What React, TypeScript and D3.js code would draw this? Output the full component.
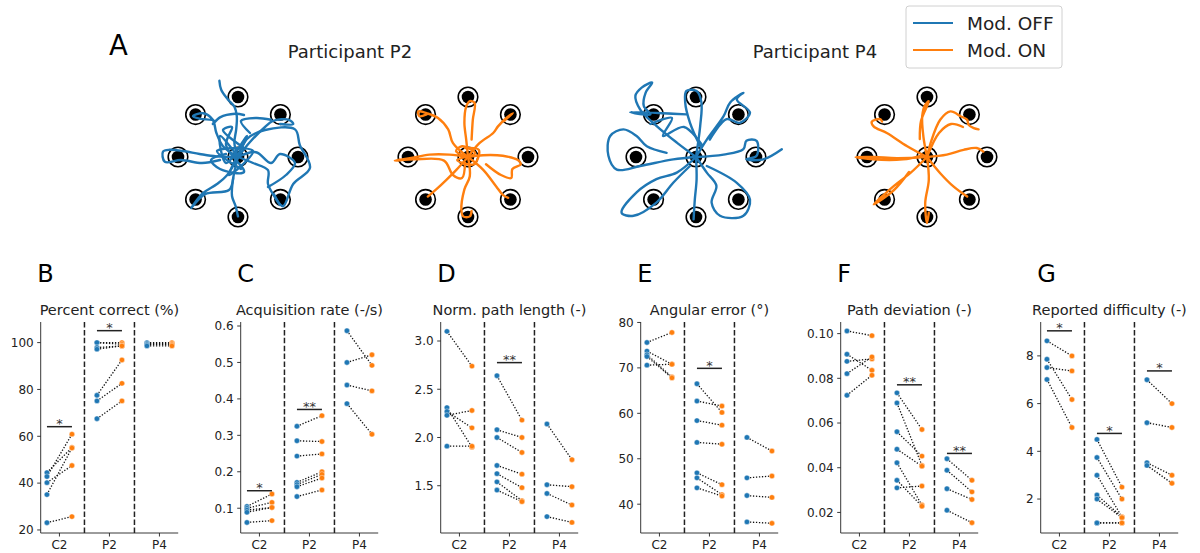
import React from "react";
import * as d3 from "d3";

const BLUE = "#1f77b4";
const ORANGE = "#ff7f0e";
const FONT = "DejaVu Sans, sans-serif";

// ---- group labels ----
const groups = ["C2", "P2", "P4"];

// ---- per-subject [Mod. OFF, Mod. ON] pairs ----
const pctC2: [number, number][] = [[44.5, 55.2], [42.8, 60.9], [40.2, 47.5], [35.1, 55.0], [23.1, 25.7]];
const pctP2: [number, number][] = [[100, 100], [100, 99.3], [97.9, 98.6], [97.2, 98.6], [77.5, 92.6], [75.1, 82.6], [67.5, 75.1]];
const pctP4: [number, number][] = [[100, 100], [99.6, 99.6], [99.1, 99.1], [98.6, 98.6]];

const rateC2: [number, number][] = [[0.105, 0.139], [0.1, 0.116], [0.095, 0.102], [0.089, 0.102], [0.061, 0.066]];
const rateP2: [number, number][] = [[0.325, 0.354], [0.285, 0.283], [0.243, 0.249], [0.171, 0.2], [0.165, 0.193], [0.159, 0.183], [0.132, 0.15]];
const rateP4: [number, number][] = [[0.587, 0.492], [0.5, 0.521], [0.438, 0.422], [0.387, 0.303]];

const lenC2: [number, number][] = [[3.1, 2.74], [2.31, 1.9], [2.27, 2.1], [2.23, 2.28], [1.91, 1.91]];
const lenP2: [number, number][] = [[2.64, 2.18], [2.08, 2.0], [2.0, 1.845], [1.71, 1.62], [1.625, 1.48], [1.54, 1.345], [1.455, 1.335]];
const lenP4: [number, number][] = [[2.14, 1.77], [1.51, 1.49], [1.42, 1.3], [1.18, 1.12]];

const angC2: [number, number][] = [[75.6, 77.8], [73.7, 70.8], [72.9, 68.0], [72.5, 67.8], [70.6, 70.8]];
const angP2: [number, number][] = [[66.5, 60.2], [62.7, 61.6], [58.4, 57.4], [53.6, 53.2], [46.9, 44.3], [45.8, 42.1], [43.6, 41.8]];
const angP4: [number, number][] = [[54.7, 51.7], [45.8, 46.2], [41.9, 41.5], [36.1, 35.8]];

const devC2: [number, number][] = [[0.1012, 0.0991], [0.0908, 0.0836], [0.0876, 0.0887], [0.0821, 0.0896], [0.0724, 0.0814]];
const devP2: [number, number][] = [[0.0735, 0.0571], [0.069, 0.041], [0.0561, 0.0452], [0.0483, 0.0407], [0.0422, 0.0233], [0.0344, 0.0228], [0.031, 0.0318]];
const devP4: [number, number][] = [[0.044, 0.0344], [0.0389, 0.0292], [0.0306, 0.0258], [0.021, 0.0154]];

const diffC2: [number, number][] = [[8.63, 8.0], [7.86, 6.17], [7.51, 7.37], [7.01, 5.0]];
const diffP2: [number, number][] = [[4.5, 2.5], [3.74, 2.0], [3.0, 1.25], [2.17, 1.25], [2.0, 1.22], [1.0, 1.0], [1.0, 1.0]];
const diffP4: [number, number][] = [[7.0, 6.0], [5.2, 5.0], [3.52, 3.0], [3.41, 2.66]];

// ---- significance markers: [group index, bar value, label] ----
const sigPct: [number, number, string][] = [[0, 64.1, "*"], [1, 105.1, "*"]];
const sigRate: [number, number, string][] = [[0, 0.148, "*"], [1, 0.371, "**"]];
const sigLen: [number, number, string][] = [[1, 2.776, "**"]];
const sigAng: [number, number, string][] = [[1, 69.9, "*"]];
const sigDev: [number, number, string][] = [[1, 0.0771, "**"], [2, 0.0464, "**"]];
const sigDiff: [number, number, string][] = [[0, 9.05, "*"], [1, 4.75, "*"], [2, 7.37, "*"]];

// ---- y ticks ----
const ticksPct = [20, 40, 60, 80, 100];
const ticksRate = [0.1, 0.2, 0.3, 0.4, 0.5, 0.6];
const ticksLen = [1.5, 2.0, 2.5, 3.0];
const ticksAng = [40, 50, 60, 70, 80];
const ticksDev = [0.02, 0.04, 0.06, 0.08, 0.1];
const ticksDiff = [2, 4, 6, 8];

type Pair = [number, number];
interface PanelSpec {
  letter: string;
  title: string;
  domain: [number, number];
  ticks: number[];
  fmt: string;
  data: Pair[][];
  sig: [number, number, string][];
}

const panels: PanelSpec[] = [
  { letter: "B", title: "Percent correct (%)", domain: [18.7, 108.8], ticks: ticksPct, fmt: "d", data: [pctC2, pctP2, pctP4], sig: sigPct },
  { letter: "C", title: "Acquisition rate (-/s)", domain: [0.032, 0.611], ticks: ticksRate, fmt: ".1f", data: [rateC2, rateP2, rateP4], sig: sigRate },
  { letter: "D", title: "Norm. path length (-)", domain: [1.01, 3.197], ticks: ticksLen, fmt: ".1f", data: [lenC2, lenP2, lenP4], sig: sigLen },
  { letter: "E", title: "Angular error (°)", domain: [33.66, 80.1], ticks: ticksAng, fmt: "d", data: [angC2, angP2, angP4], sig: sigAng },
  { letter: "F", title: "Path deviation (-)", domain: [0.0108, 0.1052], ticks: ticksDev, fmt: ".2f", data: [devC2, devP2, devP4], sig: sigDev },
  { letter: "G", title: "Reported difficulty (-)", domain: [0.577, 9.42], ticks: ticksDiff, fmt: "d", data: [diffC2, diffP2, diffP4], sig: sigDiff },
];

// ---- cursor trajectories (target radius = 1, y up) ----
type Pt = [number, number];
const trajP2Off: Pt[][] = [
  [[0, 0], [-0.06, 0.23], [-0.03, 0.46], [-0.02, 0.68], [-0.06, 0.84], [-0.17, 0.96], [-0.28, 1.12], [-0.31, 1.27]],
  [[0, 0], [-0.25, 0.18], [-0.36, 0.4], [-0.42, 0.62], [-0.58, 0.73], [-0.75, 0.68], [-0.64, 0.64], [-0.39, 0.6], [-0.42, 0.55], [-0.3, 0.66], [-0.05, 0.72], [0.1, 0.7]],
  [[0, 0], [-0.36, 0.01], [-0.64, 0.05], [-0.92, 0.1], [-1.14, 0.12], [-1.25, 0.09], [-1.22, -0.08], [-0.95, -0.05], [-0.6, -0.1], [-0.3, -0.05]],
  [[0, 0], [0.15, 0.3], [0.45, 0.45], [0.95, 0.46], [1.03, 0.2], [1.2, -0.18], [0.92, -0.45], [0.75, -0.82], [0.6, -0.62]],
  [[0, 0], [0.2, 0.25], [0.45, 0.5], [0.58, 0.6], [0.85, 0.62], [0.92, 0.55], [0.7, 0.55]],
  [[0, 0], [0.25, -0.1], [0.5, -0.22], [0.5, -0.45], [0.62, -0.68], [0.7, -0.8]],
  [[0, 0], [-0.18, -0.3], [-0.35, -0.45], [-0.58, -0.6], [-0.78, -0.85], [-0.55, -0.62], [-0.15, -0.55], [-0.08, -0.35]],
  [[0, 0], [-0.08, -0.35], [-0.1, -0.65], [-0.04, -0.82], [0, -0.99]],
  [[0, 0], [-0.3, 0.35], [-0.2, -0.1], [0.15, 0.35], [-0.15, -0.3], [0.25, 0.1], [-0.35, 0.1], [0.05, -0.2]],
  [[0, 0], [0.3, 0.08], [0.55, -0.1], [0.7, 0.05], [0.95, -0.1], [0.8, -0.3], [0.5, -0.5]],
  [[0.1, 0.15], [-0.25, 0.45], [-0.1, 0.5], [-0.2, 0.2], [0.1, -0.25], [-0.3, -0.2], [-0.45, -0.05], [-0.2, 0.05]],
  [[0.2, 0.4], [0.05, 0.6], [0.3, 0.65], [0.55, 0.62]],
];

const trajP2On: Pt[][] = [
  [[0, 0], [-0.03, 0.29], [-0.06, 0.57], [-0.03, 0.84], [0.03, 0.93], [0.11, 0.9], [0.08, 0.62], [0.06, 0.29]],
  [[0, 0], [-0.25, 0.23], [-0.33, 0.46], [-0.5, 0.65], [-0.69, 0.73], [-0.83, 0.76], [-0.81, 0.68], [-0.69, 0.71]],
  [[0, 0], [-0.31, 0.04], [-0.64, 0.04], [-0.97, -0.02], [-1.22, -0.06], [-0.9, -0.04], [-0.4, -0.06], [-0.25, -0.3], [-0.1, -0.35], [-0.05, -0.1]],
  [[0, 0], [0.19, 0.23], [0.42, 0.4], [0.5, 0.51], [0.64, 0.65], [0.75, 0.73], [0.6, 0.6]],
  [[0, 0], [0.25, 0.03], [0.58, 0.02], [0.83, -0.05], [0.88, -0.12], [0.74, -0.2], [0.72, -0.35], [0.55, -0.3], [0.3, -0.12]],
  [[0, 0], [0.25, -0.21], [0.47, -0.49], [0.58, -0.63], [0.67, -0.68]],
  [[0, 0], [0.03, -0.32], [-0.06, -0.54], [-0.11, -0.88], [-0.08, -0.99], [0.03, -0.99], [0.06, -0.9]],
  [[0, 0], [-0.19, -0.21], [-0.36, -0.38], [-0.53, -0.54], [-0.67, -0.66]],
  [[0, 0], [-0.2, 0.1], [-0.1, 0.18], [0.12, 0.06], [-0.18, -0.05], [0.1, -0.12], [0.18, 0.12], [-0.05, 0.15]],
];

const trajP4Off: Pt[][] = [
  [[0, 0], [-0.32, 0.24], [-0.66, 0.52], [-0.93, 0.79], [-1.01, 1.02], [-0.9, 1.16], [-0.73, 1.24], [-0.84, 1.07], [-0.87, 0.85], [-0.76, 0.71], [-1.1, 0.75], [-0.16, 0.71]],
  [[0, 0], [0.07, 0.52], [0.09, 0.91], [0.01, 1.1], [-0.16, 1.1], [-0.18, 0.91], [-0.1, 0.57], [0.07, 0.18]],
  [[0, 0], [-0.38, -0.04], [-0.93, -0.15], [-1.32, -0.21], [-1.46, 0.02], [-1.43, 0.35], [-1.21, 0.46], [-0.99, 0.35], [-0.82, 0.18], [-0.49, 0.07]],
  [[0, 0], [-0.32, -0.26], [-0.66, -0.37], [-0.99, -0.59], [-1.24, -0.93], [-1.04, -0.98], [-0.66, -0.76], [-0.38, -0.43], [-0.1, -0.15]],
  [[0, 0], [0.01, -0.37], [-0.02, -0.71], [-0.04, -1.04]],
  [[0, 0], [0.18, -0.26], [0.34, -0.48], [0.26, -0.76], [0.4, -0.98], [0.79, -0.98], [0.9, -0.71], [0.68, -0.43], [0.18, -0.15]],
  [[0, 0], [0.46, 0.04], [0.79, 0.13], [0.84, 0.27], [1.01, 0.27], [1.01, 0.02], [0.84, -0.04], [1.12, -0.04], [1.43, 0.13]],
  [[0, 0], [0.18, 0.29], [0.46, 0.68], [0.57, 0.91], [0.79, 1.07], [0.68, 0.96], [0.9, 0.74], [0.73, 0.57], [0.51, 0.63], [0.23, 0.29]],
  [[-0.76, 0.55], [-0.4, 0.65], [-0.55, 0.35], [-0.2, 0.5], [0.1, 0.2]],
];

const trajP4On: Pt[][] = [
  [[0, 0], [-0.06, 0.34], [-0.08, 0.68], [-0.03, 0.87], [0.03, 0.93], [-0.1, 0.6], [-0.12, 0.3]],
  [[0, 0], [-0.33, 0.18], [-0.67, 0.4], [-0.89, 0.51], [-0.92, 0.59], [-0.78, 0.63], [-0.75, 0.59]],
  [[0, 0], [-0.5, -0.02], [-0.89, 0.0], [-1.19, 0.0], [-0.9, -0.04], [-0.4, -0.04], [-0.1, 0.02]],
  [[0, 0], [0.06, 0.23], [0.22, 0.62], [0.39, 0.76], [0.56, 0.68], [0.67, 0.62], [0.69, 0.54], [0.78, 0.48], [0.86, 0.46]],
  [[0, 0], [0.33, 0.04], [0.61, 0.12], [0.83, 0.15], [0.94, 0.09]],
  [[0, 0], [0.22, -0.27], [0.44, -0.49], [0.67, -0.66]],
  [[0, 0], [0.03, -0.38], [-0.03, -0.77], [0.0, -1.1], [0.03, -0.93]],
  [[0, 0], [-0.28, -0.27], [-0.56, -0.49], [-0.72, -0.63], [-0.89, -0.79], [-0.55, -0.55], [-0.3, -0.25]],
  [[0, 0], [0.2, 0.4], [0.4, 0.55], [0.6, 0.5]],
];

const targetAngles = [0, 45, 90, 135, 180, 225, 270, 315];

interface TrajPlot {
  cx: number;
  paths: Pt[][];
  color: string;
}
const trajPlots: TrajPlot[] = [
  { cx: 238, paths: trajP2Off, color: BLUE },
  { cx: 468, paths: trajP2On, color: ORANGE },
  { cx: 696, paths: trajP4Off, color: BLUE },
  { cx: 927, paths: trajP4On, color: ORANGE },
];

const participantTitles = [
  { text: "Participant P2", x: 350 },
  { text: "Participant P4", x: 815 },
];

const legendItems = [
  { label: "Mod. OFF", color: BLUE },
  { label: "Mod. ON", color: ORANGE },
];

function Trajectories({ plot }: { plot: TrajPlot }) {
  const unit = 60;
  const cy = 157;
  const sx = d3.scaleLinear().domain([-1.6, 1.6]).range([plot.cx - 1.6 * unit, plot.cx + 1.6 * unit]);
  const sy = d3.scaleLinear().domain([-1.6, 1.6]).range([cy + 1.6 * unit, cy - 1.6 * unit]);
  const line = d3
    .line<Pt>()
    .x((d) => sx(d[0]))
    .y((d) => sy(d[1]))
    .curve(d3.curveCatmullRom.alpha(0.5));
  const targets: Pt[] = [[0, 0], ...targetAngles.map((a) => [Math.cos((a * Math.PI) / 180), Math.sin((a * Math.PI) / 180)] as Pt)];
  return (
    <g>
      {targets.map((t, i) => (
        <g key={i}>
          <circle cx={sx(t[0])} cy={sy(t[1])} r={9.8} fill="white" stroke="black" strokeWidth={1.6} />
          <circle cx={sx(t[0])} cy={sy(t[1])} r={6.3} fill="black" />
        </g>
      ))}
      {plot.paths.map((p, i) => (
        <path key={i} d={line(p) || ""} fill="none" stroke={plot.color} strokeWidth={2.4} strokeLinecap="round" strokeLinejoin="round" />
      ))}
    </g>
  );
}

function Panel({ spec, index }: { spec: PanelSpec; index: number }) {
  const left = 40.7 + 200 * index;
  const width = 137.5;
  const top = 322;
  const bottom = 533;
  const x = d3.scaleLinear().domain([-0.375, 2.375]).range([left, left + width]);
  const y = d3.scaleLinear().domain(spec.domain).range([bottom, top]);
  const fmt = d3.format(spec.fmt);
  return (
    <g fontFamily={FONT}>
      <text x={left - 3.5} y={282} fontSize={24} fill="black">
        {spec.letter}
      </text>
      <text x={left + width / 2} y={315} fontSize={14.5} textAnchor="middle" fill="#222">
        {spec.title}
      </text>
      {[0.5, 1.5].map((v) => (
        <line key={v} x1={x(v)} x2={x(v)} y1={top} y2={bottom} stroke="#222" strokeWidth={1.5} strokeDasharray="5.5,2.4" />
      ))}
      {spec.data.map((pairs, g) =>
        pairs.map((p, i) => (
          <line
            key={`l${g}-${i}`}
            x1={x(g - 0.25)}
            y1={y(p[0])}
            x2={x(g + 0.25)}
            y2={y(p[1])}
            stroke="#111"
            strokeWidth={1.3}
            strokeDasharray="1.3,1.7"
          />
        ))
      )}
      {spec.data.map((pairs, g) =>
        pairs.map((p, i) => (
          <circle key={`b${g}-${i}`} cx={x(g - 0.25)} cy={y(p[0])} r={2.7} fill={BLUE} stroke="white" strokeWidth={0.4} />
        ))
      )}
      {spec.data.map((pairs, g) =>
        pairs.map((p, i) => (
          <circle key={`o${g}-${i}`} cx={x(g + 0.25)} cy={y(p[1])} r={2.7} fill={ORANGE} stroke="white" strokeWidth={0.4} />
        ))
      )}
      {spec.sig.map(([g, v, label], i) => (
        <g key={`s${i}`}>
          <line x1={x(g - 0.25)} x2={x(g + 0.25)} y1={y(v)} y2={y(v)} stroke="#222" strokeWidth={1.5} />
          <text x={(x(g - 0.25) + x(g + 0.25)) / 2} y={y(v) + 1.5} fontSize={13} textAnchor="middle" fill="#333">
            {label}
          </text>
        </g>
      ))}
      {/* spines */}
      <line x1={left} x2={left} y1={top} y2={bottom} stroke="#222" strokeWidth={0.9} />
      <line x1={left} x2={left + width} y1={bottom} y2={bottom} stroke="#222" strokeWidth={0.9} />
      {spec.ticks.map((t) => (
        <g key={t}>
          <line x1={left - 3.5} x2={left} y1={y(t)} y2={y(t)} stroke="#222" strokeWidth={0.9} />
          <text x={left - 7} y={y(t)} dy="0.36em" fontSize={12} textAnchor="end" fill="#222">
            {fmt(t)}
          </text>
        </g>
      ))}
      {groups.map((gname, g) => (
        <g key={gname}>
          <line x1={x(g)} x2={x(g)} y1={bottom} y2={bottom + 3.5} stroke="#222" strokeWidth={0.9} />
          <text x={x(g)} y={549} fontSize={12} textAnchor="middle" fill="#222">
            {gname}
          </text>
        </g>
      ))}
    </g>
  );
}

export default function App() {
  return (
    <svg width={1200} height={553} style={{ position: "absolute", left: 0, top: 0, background: "white" }}>
      <rect width={1200} height={553} fill="white" />
      <text x={109} y={54.5} fontSize={27.5} fontFamily={FONT} fill="black">
        A
      </text>
      {participantTitles.map((t) => (
        <text key={t.text} x={t.x} y={58.3} fontSize={18} textAnchor="middle" fontFamily={FONT} fill="#222">
          {t.text}
        </text>
      ))}
      {trajPlots.map((p, i) => (
        <Trajectories key={i} plot={p} />
      ))}
      {/* legend */}
      <g fontFamily={FONT}>
        <rect x={906} y={6} width={156} height={62} rx={3} fill="white" stroke="#d0d0d0" strokeWidth={1} />
        {legendItems.map((item, i) => (
          <g key={item.label}>
            <line x1={913} x2={953} y1={23 + 27 * i} y2={23 + 27 * i} stroke={item.color} strokeWidth={2} />
            <text x={967} y={29.5 + 27 * i} fontSize={18.5} fill="#222">
              {item.label}
            </text>
          </g>
        ))}
      </g>
      {panels.map((spec, i) => (
        <Panel key={spec.letter} spec={spec} index={i} />
      ))}
    </svg>
  );
}
